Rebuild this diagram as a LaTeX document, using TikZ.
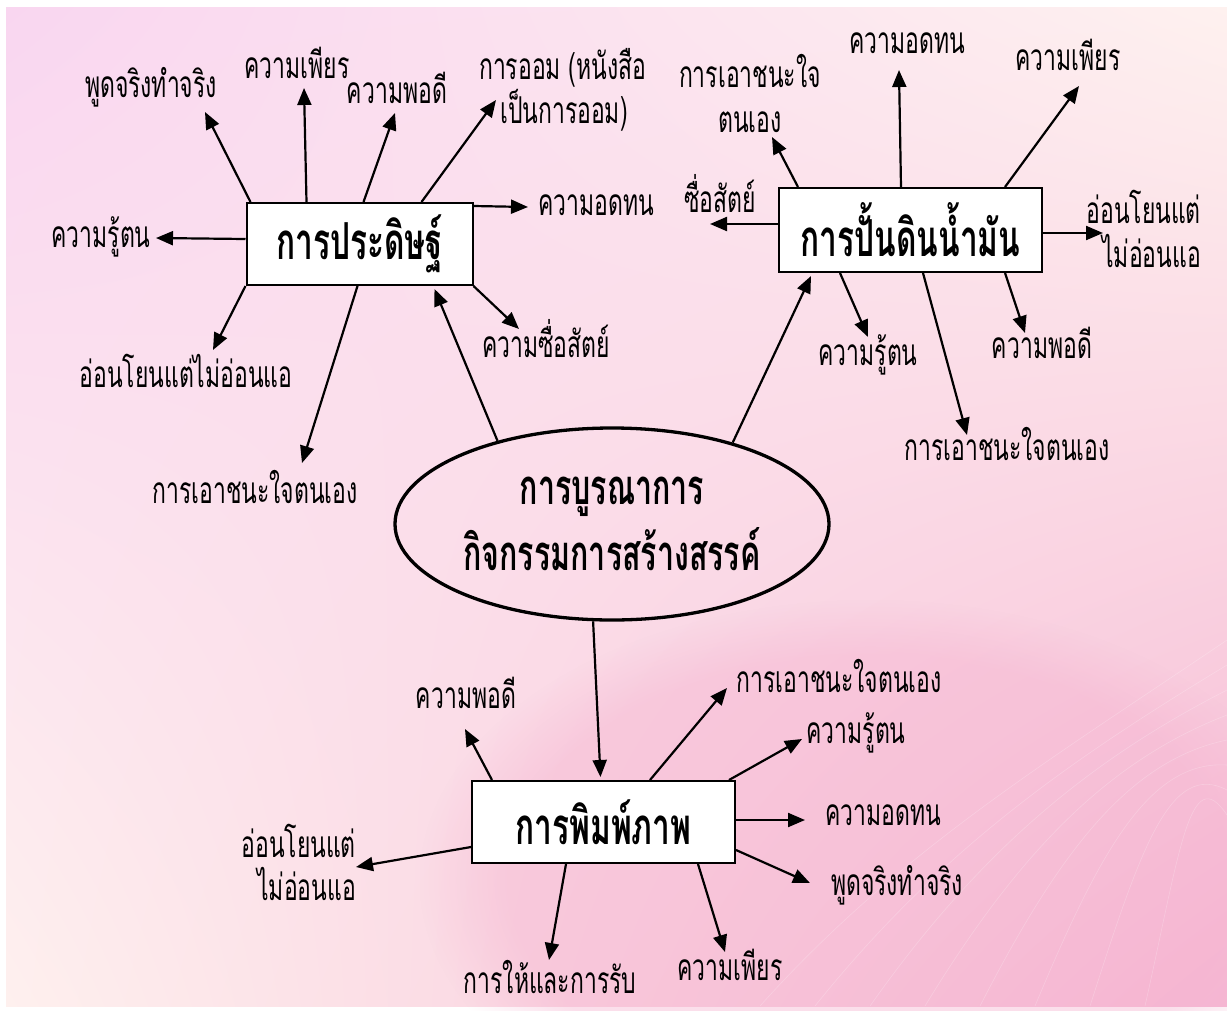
\documentclass[tikz,border=0pt]{standalone}
\usepackage{fontspec}
\newfontfamily\thaifont[Script=Thai,FakeStretch=0.62]{Loma}
\usetikzlibrary{shapes.geometric,arrows.meta,fadings,shadings}
\definecolor{bgtl}{HTML}{F9D6F0}
\definecolor{bgtr}{HTML}{FEF1EF}
\definecolor{bgbl}{HTML}{FEF0EE}
\definecolor{bgbr}{HTML}{F6B8D4}
\definecolor{blobpink}{HTML}{F5B0CE}

\begin{document}
\begin{tikzpicture}[x=1pt,y=-1pt,
  lbl/.style={anchor=base,inner sep=0pt,font=\thaifont\fontsize{37}{35}\selectfont},
  topic/.style={draw,line width=2pt,fill=white,inner sep=0pt,font=\thaifont\bfseries\fontsize{51}{50}\selectfont},
  hub/.style={ellipse,draw,line width=3.3pt,inner sep=0pt,minimum width=434pt,minimum height=192pt,align=center,font=\thaifont\bfseries\fontsize{49}{66}\selectfont},
  arr/.style={line width=2.2pt,-{Triangle[length=17pt,width=14pt]}}]

% Background
\useasboundingbox (0,0) rectangle (1227,1010);
\fill[white] (0,0) rectangle (1227,1010);
\shade[upper left=bgtl,upper right=bgtr,lower left=bgbl,lower right=bgbr] (6,7) rectangle (1227,1006);
\fill[blobpink,fill opacity=0.4,path fading=circle with fuzzy edge 20 percent] (420,600) rectangle (1320,1160);
\foreach \i in {0,...,7}
  \draw[white,opacity=0.22,line width=0.6pt] (760+\i*55,1006) .. controls (900+\i*40,850) and (1050+\i*20,760) .. (1227,640+\i*25);

% Centre
\node[hub] (core) at (612,524) {การบูรณาการ\\กิจกรรมการสร้างสรรค์};

% Topic boxes
\node[topic,minimum width=226pt,minimum height=82pt] (craft) at (359.5,244) {การประดิษฐ์};
\node[topic,minimum width=263pt,minimum height=84pt] (clay) at (910.5,230) {การปั้นดินน้ำมัน};
\node[topic,minimum width=263pt,minimum height=82pt] (print) at (603.5,822) {การพิมพ์ภาพ};

% Labels round การประดิษฐ์
\node[lbl] (tTruth) at (151,97) {พูดจริงทำจริง};
\node[lbl] (tEffort) at (297,78) {ความเพียร};
\node[lbl] (tEnough) at (397,103) {ความพอดี};
\node[lbl,anchor=base west,align=left] (tSave) at (479,123) {การออม (หนังสือ\\\hspace*{21pt}เป็นการออม)};
\node[lbl] (tPatience) at (596,215) {ความอดทน};
\node[lbl] (tSelf) at (101,247) {ความรู้ตน};
\node[lbl] (tHonest) at (546,357) {ความซื่อสัตย์};
\node[lbl] (tGentle) at (186,387) {อ่อนโยนแต่ไม่อ่อนแอ};
\node[lbl] (tWin) at (255,503) {การเอาชนะใจตนเอง};

% Labels round การปั้นดินน้ำมัน
\node[lbl,align=center,font=\thaifont\fontsize{37}{45}\selectfont] (rWin) at (750,132) {การเอาชนะใจ\\ตนเอง};
\node[lbl] (rPatience) at (907,53) {ความอดทน};
\node[lbl] (rEffort) at (1068,70) {ความเพียร};
\node[lbl] (rHonest) at (720,212) {ซื่อสัตย์};
\node[lbl,anchor=base east,align=right,font=\thaifont\fontsize{37}{44}\selectfont] (rGentle) at (1201,267) {อ่อนโยนแต่\\ไม่อ่อนแอ};
\node[lbl] (rSelf) at (868,365) {ความรู้ตน};
\node[lbl] (rEnough) at (1042,358) {ความพอดี};
\node[lbl] (rWin2) at (1007,460) {การเอาชนะใจตนเอง};

% Labels round การพิมพ์ภาพ
\node[lbl] (bEnough) at (466,708) {ความพอดี};
\node[lbl] (bWin) at (839,692) {การเอาชนะใจตนเอง};
\node[lbl] (bSelf) at (856,743) {ความรู้ตน};
\node[lbl] (bPatience) at (883,825) {ความอดทน};
\node[lbl,anchor=base east,align=right,font=\thaifont\fontsize{37}{43}\selectfont] (bGentle) at (356,900) {อ่อนโยนแต่\\ไม่อ่อนแอ};
\node[lbl] (bTruth) at (897,895) {พูดจริงทำจริง};
\node[lbl] (bGive) at (550,993) {การให้และการรับ};
\node[lbl] (bEffort) at (730,980) {ความเพียร};

% Arrows from the centre
\draw[arr] (core.144) -- ([xshift=-39pt,yshift=-3pt]craft.south east);
\draw[arr] (core.34) -- ([xshift=33pt,yshift=-3pt]clay.south west);
\draw[arr] (core.-101) -- ([xshift=-3pt,yshift=3pt]print.north);

% Arrows of การประดิษฐ์
\draw[arr] ([xshift=5pt]craft.north west) -- ([shift={(54,15)}]tTruth.base);
\draw[arr] ([xshift=61pt]craft.north west) -- ([shift={(7,10)}]tEffort.base);
\draw[arr] ([xshift=118pt]craft.north west) -- ([shift={(-2,10)}]tEnough.base);
\draw[arr] ([xshift=176pt]craft.north west) -- ([shift={(17,-23)}]tSave.base west);
\draw[arr] ([yshift=-4pt]craft.north east) -- ([shift={(-68,-8)}]tPatience.base);
\draw[arr] ([yshift=5pt]craft.west) -- ([shift={(55,-9)}]tSelf.base);
\draw[arr] (craft.south east) -- ([shift={(-27,-28)}]tHonest.base);
\draw[arr] (craft.south west) -- ([shift={(27,-37)}]tGentle.base);
\draw[arr] ([xshift=112pt]craft.south west) -- ([shift={(47,-40)}]tWin.base);

% Arrows of การปั้นดินน้ำมัน
\draw[arr] ([xshift=20pt]clay.north west) -- ([shift={(22,5)}]rWin.base);
\draw[arr] ([xshift=123pt]clay.north west) -- ([shift={(-8,17)}]rPatience.base);
\draw[arr] ([xshift=227pt]clay.north west) -- ([shift={(11,16)}]rEffort.base);
\draw[arr] ([yshift=6pt]clay.west) -- ([shift={(-10,12)}]rHonest.base);
\draw[arr] ([yshift=-3pt]clay.east) -- ([shift={(-98,-34)}]rGentle.base east);
\draw[arr] ([xshift=62pt]clay.south west) -- ([shift={(0,-28)}]rSelf.base);
\draw[arr] ([xshift=227pt]clay.south west) -- ([shift={(-17,-25)}]rEnough.base);
\draw[arr] ([xshift=145pt]clay.south west) -- ([shift={(-40,-25)}]rWin2.base);

% Arrows of การพิมพ์ภาพ
\draw[arr] ([xshift=21pt]print.north west) -- ([shift={(-1,21)}]bEnough.base);
\draw[arr] ([xshift=179pt]print.north west) -- ([shift={(-112,-4)}]bWin.base);
\draw[arr] ([xshift=-7pt]print.north east) -- ([shift={(-54,-4)}]bSelf.base);
\draw[arr] ([yshift=2pt]print.east) -- ([shift={(-78,-5)}]bPatience.base);
\draw[arr] ([yshift=-28pt]print.east) -- ([shift={(-87,-12)}]bTruth.base);
\draw[arr] ([yshift=-25pt]print.west) -- ([shift={(0,-33)}]bGentle.base east);
\draw[arr] ([xshift=95pt]print.south west) -- ([shift={(-1,-33)}]bGive.base);
\draw[arr] ([xshift=227pt]print.south west) -- ([shift={(-5,-28)}]bEffort.base);

\end{tikzpicture}
\end{document}
